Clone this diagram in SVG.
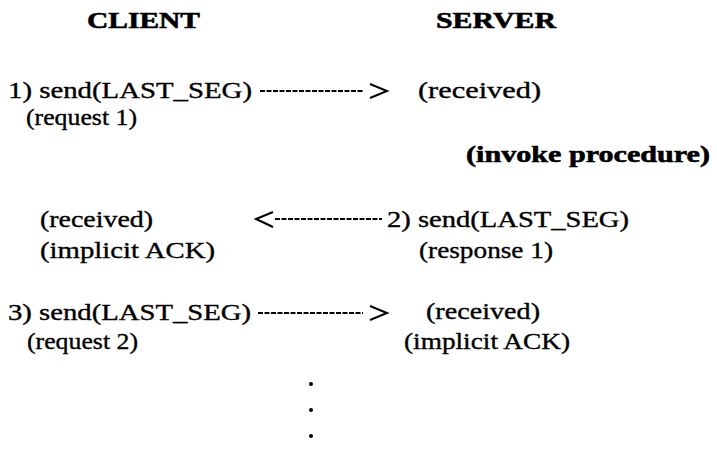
<svg xmlns="http://www.w3.org/2000/svg" width="717" height="450" viewBox="0 0 717 450">
<style>
text{font-family:"Liberation Serif","DejaVu Serif",serif;font-size:23px;fill:#000;stroke:#000;stroke-width:0.35;}
.b{font-weight:bold;font-size:24px;stroke-width:0.6;}
.dash{stroke:#000;stroke-width:2.2;stroke-dasharray:5 1.5;fill:none;}
.head{stroke:#000;stroke-width:2;fill:none;}
</style>
<rect width="717" height="450" fill="#fff"/>
<g id="client-title"><text class="b" x="87" y="28" textLength="113" lengthAdjust="spacingAndGlyphs">CLIENT</text></g>
<g id="server-title"><text class="b" x="436" y="28" textLength="120" lengthAdjust="spacingAndGlyphs">SERVER</text></g>
<g id="c1"><text x="8" y="98" textLength="244" lengthAdjust="spacingAndGlyphs">1) send(LAST_SEG)</text>
<text x="26" y="125" textLength="111" lengthAdjust="spacingAndGlyphs">(request 1)</text></g>
<g id="s1"><text x="418" y="98" textLength="123" lengthAdjust="spacingAndGlyphs">(received)</text></g>
<g id="s-invoke"><text class="b" x="466" y="162" textLength="244" lengthAdjust="spacingAndGlyphs">(invoke procedure)</text></g>
<g id="c2"><text x="40" y="227" textLength="113" lengthAdjust="spacingAndGlyphs">(received)</text>
<text x="40" y="258" textLength="175" lengthAdjust="spacingAndGlyphs">(implicit ACK)</text></g>
<g id="s2"><text x="387" y="227" textLength="242" lengthAdjust="spacingAndGlyphs">2) send(LAST_SEG)</text>
<text x="419" y="258" textLength="134" lengthAdjust="spacingAndGlyphs">(response 1)</text></g>
<g id="c3"><text x="8" y="320" textLength="243" lengthAdjust="spacingAndGlyphs">3) send(LAST_SEG)</text>
<text x="27" y="349" textLength="111" lengthAdjust="spacingAndGlyphs">(request 2)</text></g>
<g id="s3"><text x="426" y="319" textLength="114" lengthAdjust="spacingAndGlyphs">(received)</text>
<text x="404" y="349" textLength="166" lengthAdjust="spacingAndGlyphs">(implicit ACK)</text></g>
<g id="connectors">
<line class="dash" x1="260" y1="91" x2="363" y2="91"/>
<polyline class="head" points="370,84 387,91 370,98"/>
<line class="dash" x1="275" y1="219" x2="382" y2="219"/>
<polyline class="head" points="273,212 256,219 273,227"/>
<line class="dash" x1="258" y1="313" x2="363" y2="313"/>
<polyline class="head" points="370,306 387,313 370,320"/>
</g>
<g id="ellipsis" fill="#000">
<circle cx="311" cy="384" r="2"/>
<circle cx="311" cy="410" r="2"/>
<circle cx="311" cy="436" r="2"/>
</g>
</svg>
